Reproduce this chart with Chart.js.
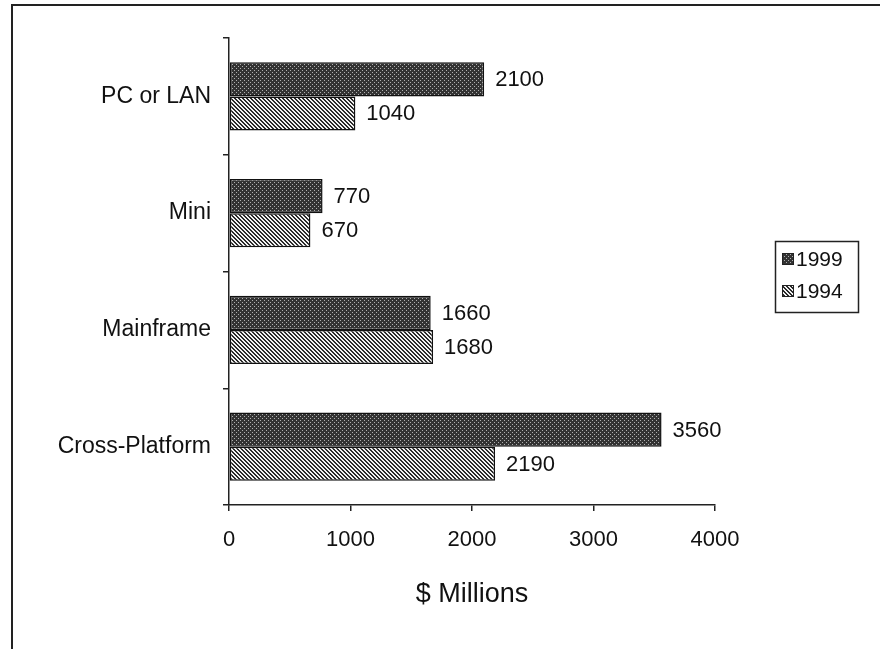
<!DOCTYPE html>
<html>
<head>
<meta charset="utf-8">
<script src="https://cdn.jsdelivr.net/npm/chart.js@4/dist/chart.umd.min.js"></script>
<style>
  html, body { margin: 0; padding: 0; background: #fff; }
  #wrap { width: 880px; height: 649px; }
</style>
</head>
<body>
<div id="wrap"><canvas id="chart" width="880" height="649"></canvas></div>
<script>
const categories = ['PC or LAN', 'Mini', 'Mainframe', 'Cross-Platform'];
const years = ['1999', '1994'];
const values1999 = [2100, 770, 1660, 3560];
const values1994 = [1040, 670, 1680, 2190];
const xTicks = [0, 1000, 2000, 3000, 4000];

const FONT = '"Liberation Sans", Arial, sans-serif';

function makePattern(kind) {
  const c = document.createElement('canvas');
  c.width = 4; c.height = 4;
  const g = c.getContext('2d');
  if (kind === 'dark') {
    g.fillStyle = '#333';
    g.fillRect(0, 0, 4, 4);
    g.fillStyle = '#b0b0b0';
    g.fillRect(0, 0, 1, 1);
    g.fillRect(2, 2, 1, 1);
  } else {
    g.fillStyle = '#f2f2f2';
    g.fillRect(0, 0, 4, 4);
    g.fillStyle = '#2a2a2a';
    for (let i = 0; i < 4; i++) {
      g.fillRect(i, i, 1, 1);
      g.fillRect((i + 1) % 4, i, 1, 1);
    }
  }
  return document.getElementById('chart').getContext('2d').createPattern(c, 'repeat');
}

const fills = [makePattern('dark'), makePattern('light')];

// frame, value labels and boxed legend
const extras = {
  id: 'extras',
  afterDraw(chart) {
    const ctx = chart.ctx;
    ctx.save();
    ctx.strokeStyle = '#222';
    ctx.lineWidth = 2;
    ctx.beginPath();
    ctx.moveTo(12, 649);
    ctx.lineTo(12, 5);
    ctx.lineTo(880, 5);
    ctx.stroke();

    ctx.fillStyle = '#111';
    ctx.font = '22px ' + FONT;
    ctx.textBaseline = 'middle';
    ctx.textAlign = 'left';
    chart.data.datasets.forEach((ds, di) => {
      chart.getDatasetMeta(di).data.forEach((bar, i) => {
        ctx.fillText(String(ds.data[i]), bar.x + 11, bar.y + 1);
      });
    });

    // legend
    ctx.font = '21px ' + FONT;
    ctx.lineWidth = 1.5;
    ctx.strokeStyle = '#222';
    ctx.strokeRect(775.5, 241.5, 83, 71);
    chart.data.datasets.forEach((ds, di) => {
      const y = 259 + di * 32;
      ctx.fillStyle = ds.backgroundColor;
      ctx.fillRect(782, y - 6, 12, 12);
      ctx.lineWidth = 1;
      ctx.strokeRect(782.5, y - 5.5, 11, 11);
      ctx.fillStyle = '#111';
      ctx.fillText(ds.label, 796, y + 1);
    });
    ctx.restore();
  }
};

new Chart(document.getElementById('chart'), {
  type: 'bar',
  data: {
    labels: categories,
    datasets: [
      { label: years[0], data: values1999, backgroundColor: fills[0], borderColor: '#111', borderWidth: 1.5, borderSkipped: false },
      { label: years[1], data: values1994, backgroundColor: fills[1], borderColor: '#111', borderWidth: 1.5, borderSkipped: false }
    ]
  },
  options: {
    indexAxis: 'y',
    responsive: false,
    animation: false,
    categoryPercentage: 0.583,
    barPercentage: 1.0,
    layout: { padding: { left: 12, top: 38, right: 165, bottom: 30 } },
    plugins: { legend: { display: false }, tooltip: { enabled: false } },
    scales: {
      x: {
        min: 0, max: 4000,
        afterBuildTicks(scale) { scale.ticks = xTicks.map(v => ({ value: v })); },
        afterFit(scale) { scale.height = 114; },
        grid: { drawOnChartArea: false, color: '#222', tickLength: 6, lineWidth: 1.5 },
        border: { color: '#222', width: 1.5 },
        ticks: { color: '#111', padding: 16, callback: v => String(v), font: { family: FONT, size: 22 } },
        title: { display: true, text: '$ Millions', color: '#111', padding: { top: 0, bottom: 8 }, font: { family: FONT, size: 27 } }
      },
      y: {
        afterFit(scale) { scale.width = 217; },
        grid: { drawOnChartArea: false, color: '#222', tickLength: 6, lineWidth: 1.5, offset: true },
        border: { color: '#222', width: 1.5 },
        ticks: { color: '#111', padding: 12, font: { family: FONT, size: 23 } }
      }
    }
  },
  plugins: [extras]
});
</script>
</body>
</html>
